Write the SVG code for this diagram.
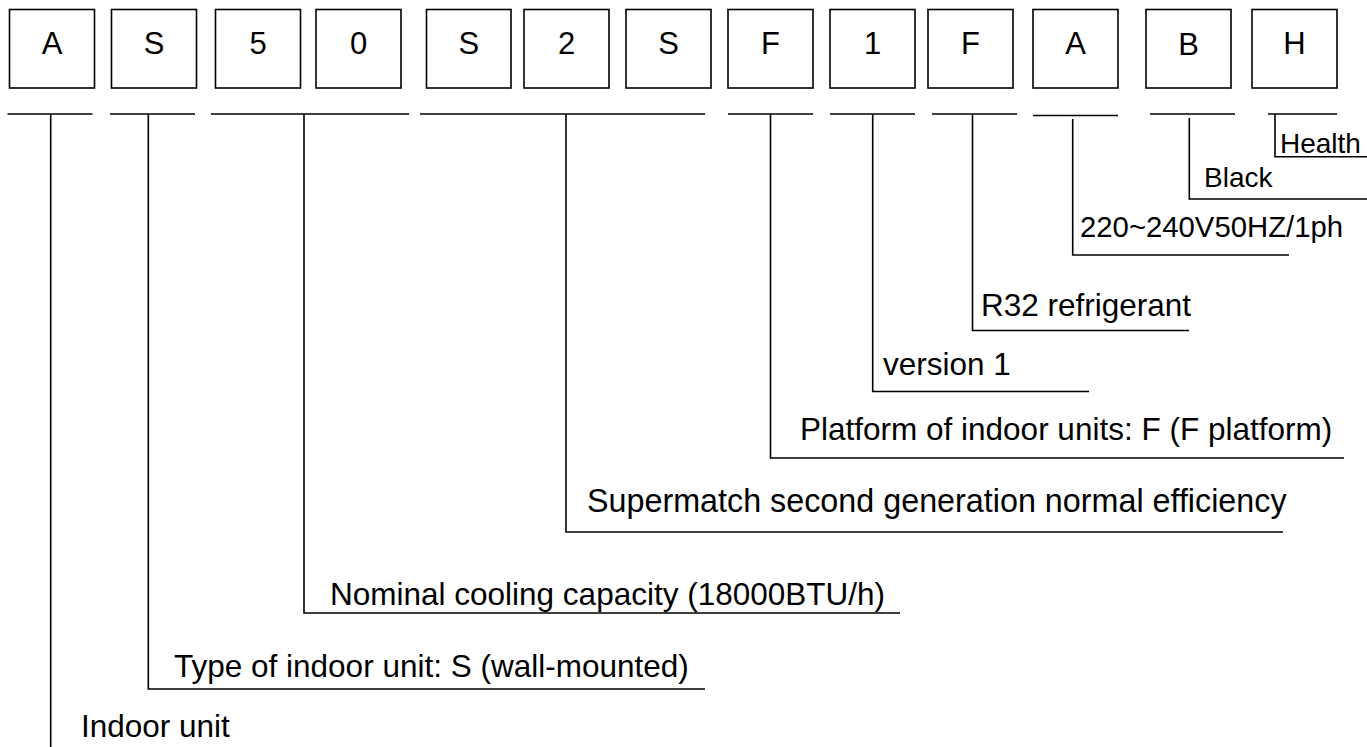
<svg xmlns="http://www.w3.org/2000/svg" width="1367" height="747" viewBox="0 0 1367 747">
<style>
.box rect{fill:#fff;stroke:#000;stroke-width:1.6}
.box text{font-family:"Liberation Sans",Arial,sans-serif;font-size:31px;fill:#000;text-anchor:middle}
.lbl{font-family:"Liberation Sans",Arial,sans-serif;font-size:31.5px;fill:#000}
.conn line,.conn polyline{fill:none;stroke:#000;stroke-width:1.6}
</style>
<rect width="1367" height="747" fill="#fff"/>
<g id="box-1" class="box"><rect x="9.5" y="9.5" width="85" height="78.5"/><text x="52" y="53.5">A</text></g>
<g id="box-2" class="box"><rect x="111.5" y="9.5" width="85" height="78.5"/><text x="154" y="53.5">S</text></g>
<g id="box-3" class="box"><rect x="215.5" y="9.5" width="85" height="78.5"/><text x="258" y="53.5">5</text></g>
<g id="box-4" class="box"><rect x="316" y="9.5" width="85" height="78.5"/><text x="358.5" y="53.5">0</text></g>
<g id="box-5" class="box"><rect x="426.5" y="9.5" width="84.5" height="78.5"/><text x="468.75" y="53.5">S</text></g>
<g id="box-6" class="box"><rect x="524" y="9.5" width="85" height="78.5"/><text x="566.5" y="53.5">2</text></g>
<g id="box-7" class="box"><rect x="626" y="9.5" width="85" height="78.5"/><text x="668.5" y="53.5">S</text></g>
<g id="box-8" class="box"><rect x="728" y="9.5" width="85" height="78.5"/><text x="770.5" y="53.5">F</text></g>
<g id="box-9" class="box"><rect x="830" y="9.5" width="85" height="78.5"/><text x="872.5" y="53.5">1</text></g>
<g id="box-10" class="box"><rect x="928" y="9.5" width="85" height="78.5"/><text x="970.5" y="53.5">F</text></g>
<g id="box-11" class="box"><rect x="1033" y="9.5" width="85" height="78.5"/><text x="1075.5" y="53.5">A</text></g>
<g id="box-12" class="box"><rect x="1146" y="9.5" width="85" height="78.5"/><text x="1188.5" y="55">B</text></g>
<g id="box-13" class="box"><rect x="1252" y="9.5" width="85" height="78.5"/><text x="1294.5" y="53.5">H</text></g>

<g id="connectors" class="conn">
<line x1="7.5" y1="114" x2="92.5" y2="114"/>
<line x1="110" y1="114" x2="195" y2="114"/>
<line x1="211" y1="114" x2="409" y2="114"/>
<line x1="420" y1="114" x2="705" y2="114"/>
<line x1="728" y1="114" x2="813" y2="114"/>
<line x1="830" y1="114" x2="915" y2="114"/>
<line x1="932" y1="114" x2="1017" y2="114"/>
<line x1="1033" y1="115.5" x2="1118" y2="115.5"/>
<line x1="1150" y1="114" x2="1235" y2="114"/>
<line x1="1268" y1="114" x2="1337" y2="114"/>
<line x1="50.7" y1="114" x2="50.7" y2="747"/>
<polyline points="148.3,114 148.3,689 705,689"/>
<polyline points="304,114 304,613 900,613"/>
<polyline points="566,114 566,532 1283,532"/>
<polyline points="770.5,114 770.5,458 1344,458"/>
<polyline points="872.7,114 872.7,391.5 1089,391.5"/>
<polyline points="972.5,114 972.5,330.5 1189,330.5"/>
<polyline points="1072.7,119 1072.7,255 1289,255"/>
<polyline points="1189.3,118 1189.3,199 1367,199"/>
<polyline points="1275,114 1275,156.7 1367,156.7"/>
</g>

<g id="label-health"><text class="lbl" x="1280" y="153" style="font-size:28px">Health</text></g>
<g id="label-black"><text class="lbl" x="1204" y="187" style="font-size:28px">Black</text></g>
<g id="label-power"><text class="lbl" x="1080" y="236.5" style="font-size:29.3px">220~240V50HZ/1ph</text></g>
<g id="label-r32"><text class="lbl" x="981" y="315.5">R32 refrigerant</text></g>
<g id="label-version"><text class="lbl" x="883" y="375">version 1</text></g>
<g id="label-platform"><text class="lbl" x="800" y="440">Platform of indoor units: F (F platform)</text></g>
<g id="label-supermatch"><text class="lbl" x="587" y="512" style="font-size:32.3px">Supermatch second generation normal efficiency</text></g>
<g id="label-capacity"><text class="lbl" x="330" y="605">Nominal cooling capacity (18000BTU/h)</text></g>
<g id="label-type"><text class="lbl" x="174" y="677">Type of indoor unit: S (wall-mounted)</text></g>
<g id="label-indoor"><text class="lbl" x="81" y="737">Indoor unit</text></g>
</svg>
